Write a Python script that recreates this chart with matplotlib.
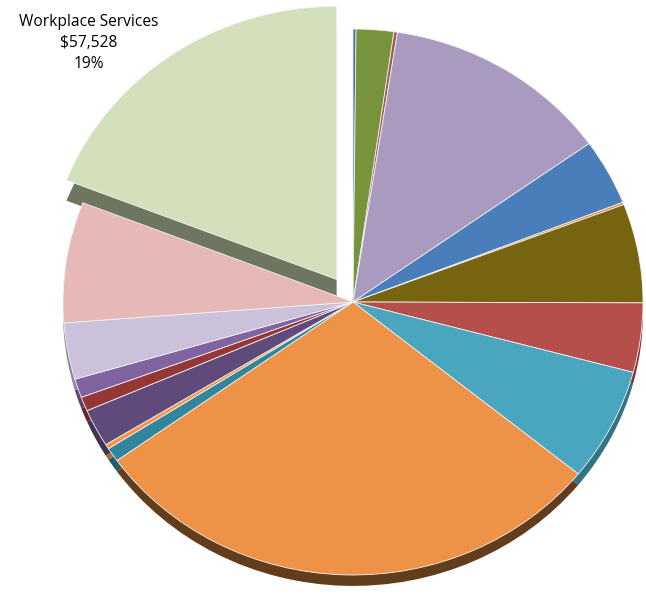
import matplotlib.pyplot as plt

# slice values in dollars, clockwise from 12 o'clock
values = [505, 6300, 590, 38270, 11780, 420, 17670, 12360, 20190, 88330,
          2520, 840, 6730, 2520, 3360, 10090, 21530, 57528]
colors = ['#3f6aa6', '#77933c', '#9c5a50', '#ab9ac0', '#4a7ebb', '#e08a3a',
          '#776410', '#b64f4b', '#4aa5be', '#ed9247', '#31859c', '#f79646',
          '#604a7b', '#953735', '#8064a2', '#ccc1da', '#e6b9b8', '#d3e0bb']
side_colors = ['#2c4a75', '#52662a', '#6d3f38', '#776b86', '#345883', '#9c6129',
               '#53460a', '#7f3734', '#337385', '#623d1c', '#225d6d', '#ad6931',
               '#433356', '#682625', '#5a4671', '#8f8799', '#a18281', '#6f7660']
label_name = 'Workplace Services'
explode = [0] * 17 + [0.1]

fig = plt.figure(figsize=(6.46, 6.0), dpi=100)
ax = fig.add_axes([0, 0, 1, 1])

# pie depth (drawn first, shifted down)
depth = 0.04
side, _ = ax.pie(values, colors=side_colors, startangle=90, counterclock=False,
                 explode=explode, center=(0, -depth), radius=1,
                 wedgeprops=dict(linewidth=0))
# the pulled-out slice looks thicker
cx, cy = side[-1].center
side[-1].set_center((cx, cy - 0.035))

# top face
ax.pie(values, colors=colors, startangle=90, counterclock=False,
       explode=explode, center=(0, 0), radius=1,
       wedgeprops=dict(linewidth=0.6, edgecolor='#f2f2f2'))

ax.set_aspect('auto')
ax.set_xlim(-353 / 290, (646 - 353) / 290)
ax.set_ylim(-298 / 273, 302 / 273)
ax.axis('off')

total = sum(values)
fig.text(89 / 646, 1 - 43 / 600,
         '%s\n$%s\n%d%%' % (label_name, format(values[-1], ','), round(values[-1] / total * 100)),
         ha='center', va='center', fontsize=11.2, family='Open Sans', linespacing=1.45)

fig.savefig('out.png', dpi=100)
